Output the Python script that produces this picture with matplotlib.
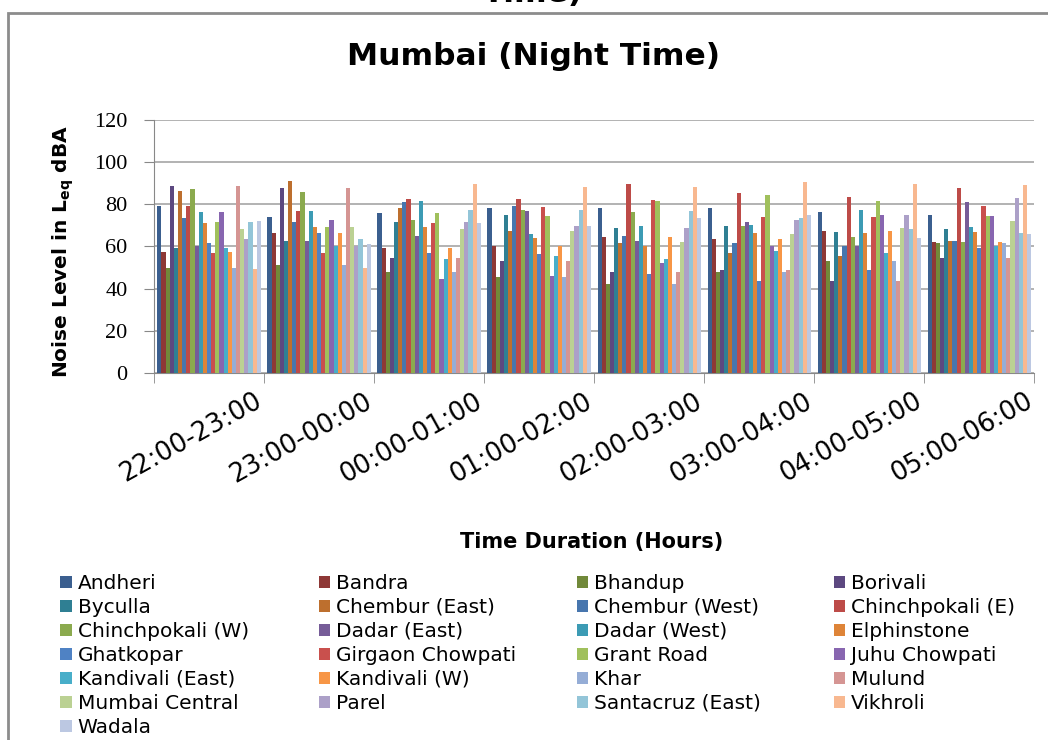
import numpy as np
import matplotlib
matplotlib.use("Agg")
import matplotlib.pyplot as plt
from matplotlib.patches import Rectangle

periods = ["22:00-23:00", "23:00-00:00", "00:00-01:00", "01:00-02:00",
           "02:00-03:00", "03:00-04:00", "04:00-05:00", "05:00-06:00"]

stations = ["Andheri", "Bandra", "Bhandup", "Borivali", "Byculla",
            "Chembur (East)", "Chembur (West)", "Chinchpokali (E)",
            "Chinchpokali (W)", "Dadar (East)", "Dadar (West)", "Elphinstone",
            "Ghatkopar", "Girgaon Chowpati", "Grant Road", "Juhu Chowpati",
            "Kandivali (East)", "Kandivali (W)", "Khar", "Mulund",
            "Mumbai Central", "Parel", "Santacruz (East)", "Vikhroli", "Wadala"]

# one row per time slot, one column per station (dBA)
levels_2200 = [79.2, 57.3, 49.8, 88.7, 59.2, 86.3, 73.3, 79.2, 87.0, 60.2, 76.3, 71.0, 61.6,
               56.8, 71.6, 76.3, 59.2, 57.3, 49.8, 88.7, 68.1, 63.3, 71.6, 49.2, 72.2]
levels_2300 = [74.0, 66.2, 51.4, 87.5, 62.7, 91.0, 71.6, 77.0, 85.7, 62.7, 77.0, 69.0, 66.2,
               56.8, 69.0, 72.7, 60.2, 66.2, 51.4, 87.5, 69.0, 60.2, 63.3, 49.8, 61.0]
levels_0000 = [75.7, 59.2, 47.9, 54.6, 71.6, 78.1, 81.0, 82.7, 72.7, 65.1, 81.6, 69.0, 56.8,
               71.0, 75.7, 44.4, 53.8, 59.2, 47.9, 54.6, 68.1, 71.6, 77.5, 89.4, 71.0]
levels_0100 = [78.1, 60.2, 45.7, 53.3, 75.1, 67.5, 79.2, 82.7, 77.5, 76.8, 65.7, 63.8, 56.2,
               78.6, 74.4, 46.2, 55.6, 60.2, 45.7, 53.3, 67.5, 69.8, 77.5, 88.1, 69.8]
levels_0200 = [78.1, 64.4, 42.1, 47.9, 68.6, 61.6, 65.1, 89.8, 76.3, 62.7, 69.8, 60.2, 46.8,
               82.2, 81.6, 52.1, 53.8, 64.4, 42.1, 47.9, 62.1, 68.6, 76.8, 88.1, 73.3]
levels_0300 = [78.1, 63.3, 47.9, 48.6, 69.8, 56.8, 61.6, 85.2, 69.8, 71.6, 70.3, 66.2, 43.8,
               74.0, 84.6, 60.2, 57.9, 63.3, 47.9, 48.6, 65.7, 72.7, 73.3, 90.5, 75.1]
levels_0400 = [76.3, 67.5, 53.3, 43.8, 66.8, 55.6, 60.2, 83.3, 64.4, 60.2, 77.5, 66.2, 48.6,
               74.0, 81.6, 75.1, 56.8, 67.5, 53.3, 43.8, 68.6, 75.1, 68.1, 89.4, 63.8]
levels_0500 = [75.1, 62.1, 61.4, 54.4, 68.1, 62.7, 62.7, 87.5, 62.1, 81.0, 69.2, 66.8, 59.2,
               79.2, 74.4, 74.4, 60.3, 62.1, 61.4, 54.4, 72.0, 83.0, 66.5, 89.0, 66.0]

colors = ["#3B5F8F", "#8E3836", "#71893A", "#5C4880", "#2F7F93", "#BD6F2E", "#4776AE",
          "#BD4B48", "#8BAA4E", "#765C98", "#3C9BB4", "#DE8438", "#4F82C4", "#C9504D",
          "#A0C05C", "#8866B0", "#48AEC9", "#F79646", "#95ADD6", "#D59593", "#BBD193",
          "#ACA0C8", "#93C5D8", "#F8B890", "#BCC8E2"]

levels = np.array([levels_2200, levels_2300, levels_0000, levels_0100,
                   levels_0200, levels_0300, levels_0400, levels_0500])

fig = plt.figure(figsize=(10.48, 7.40), dpi=100)
ax = fig.add_axes([0.147, 0.496, 0.840, 0.342])

n = len(stations)
x = np.arange(len(periods))
width = 0.94 / n
for i, name in enumerate(stations):
    ax.bar(x - 0.47 + width * (i + 0.5), levels[:, i], width=width,
           color=colors[i], label=name, linewidth=0, zorder=3)

ax.set_xlim(-0.5, len(periods) - 0.5)
ax.set_ylim(0, 120)
ax.set_yticks(range(0, 121, 20))
ax.set_yticklabels([str(v) for v in range(0, 121, 20)], fontsize=16,
                   family="Liberation Serif")
# labels hang from the right end of each group, as in the spreadsheet export
ax.set_xticks(x + 0.41)
ax.set_xticklabels(periods, rotation=29, ha="right", rotation_mode="anchor",
                   fontsize=18.5)
ax.set_xticks(np.arange(-0.5, len(periods)), minor=True)
ax.tick_params(axis="x", which="major", length=0, pad=11)
ax.tick_params(axis="x", which="minor", length=7, color="#888888")
ax.tick_params(axis="y", length=7, color="#888888", pad=12)
ax.grid(axis="y", color="#A6A6A6", linewidth=1.2, zorder=0)
for s in ["top", "right"]:
    ax.spines[s].set_visible(False)
for s in ["left", "bottom"]:
    ax.spines[s].set_color("#888888")

ax.set_ylabel(r"Noise Level in L$_{\mathbf{eq}}$ dBA", fontsize=14.5,
              fontweight="bold")
ax.yaxis.set_label_coords(-0.089, 0.48)
ax.set_xlabel("Time Duration (Hours)", fontsize=15, fontweight="bold")
ax.xaxis.set_label_coords(0.497, -0.628)

fig.text(0.509, 0.924, "Mumbai (Night Time)", ha="center", va="center",
         fontsize=22.5, fontweight="bold")
fig.text(0.509, 1.009, "Time)", ha="center", va="center",
         fontsize=22.5, fontweight="bold")

fig.patches.append(Rectangle((8 / 1048, -0.1), 1.2, 1.1 - 13 / 740,
                             transform=fig.transFigure, fill=False,
                             edgecolor="#8C8C8C", linewidth=2))

handles, labels = ax.get_legend_handles_labels()
col_x = [0.050, 0.297, 0.543, 0.788]
for c in range(4):
    fig.legend(handles[c::4], labels[c::4], loc="upper left",
               bbox_to_anchor=(col_x[c], 0.2355), frameon=False,
               fontsize=14.5, handlelength=0.55, handleheight=0.55,
               handletextpad=0.3, labelspacing=0.25, borderaxespad=0)

fig.savefig("out.png", dpi=100)
